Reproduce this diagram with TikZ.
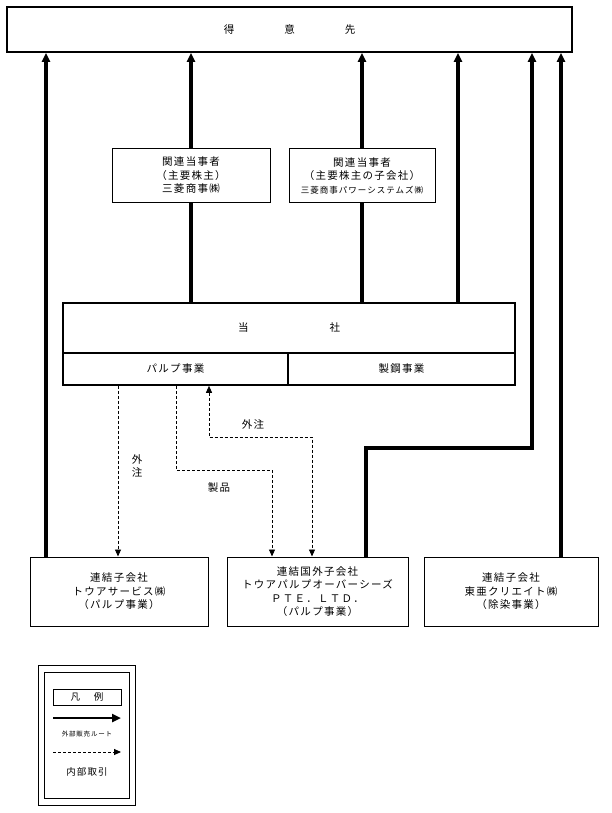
\documentclass[tikz,border=0pt]{standalone}
\usepackage{fontspec}
\setmainfont{Noto Sans CJK JP}[LetterSpace=12]
\usetikzlibrary{arrows.meta}

\tikzset{
    box/.style={draw, line width=1pt, rectangle, inner sep=0pt, align=center,
        font=\fontsize{10.5}{13.5}\selectfont},
    sales/.style={line width=3.2pt, -{Triangle[length=9pt,width=8pt]}},
    trade/.style={line width=0.9pt, dash pattern=on 3pt off 2pt, -{Triangle[length=7pt,width=6pt]}},
    lbl/.style={font=\fontsize{10.5}{13}\selectfont, align=center, inner sep=0pt}
}

\begin{document}
\begin{tikzpicture}[x=1pt, y=-1pt]
    \useasboundingbox (0,0) rectangle (612,813);

    \node[box, line width=1.8pt, minimum width=565pt, minimum height=45pt] (customer) at (289.5,29.5)
        {得\hspace{50pt}意\hspace{50pt}先};

    \node[box, minimum width=158pt, minimum height=53pt] (rel1) at (191,175.5)
        {関連当事者\\（主要株主）\\三菱商事㈱};
    \node[box, minimum width=146pt, minimum height=53pt] (rel2) at (362,175.5)
        {関連当事者\\（主要株主の子会社）\\{\fontsize{8.5}{11}\selectfont 三菱商事パワーシステムズ㈱}};

    \node[box, line width=1.6pt, minimum width=452pt, minimum height=50pt] (main) at (289,328)
        {当\hspace{81pt}社};
    \node[box, line width=1.6pt, minimum width=225pt, minimum height=32pt] (pulp) at (175.5,369)
        {パルプ事業};
    \node[box, line width=1.6pt, minimum width=227pt, minimum height=32pt] (steel) at (401.5,369)
        {製鋼事業};

    \node[box, minimum width=178pt, minimum height=69pt] (subA) at (119,591.5)
        {連結子会社\\トウアサービス㈱\\（パルプ事業）};
    \node[box, minimum width=181pt, minimum height=69pt] (subB) at (317.5,591.5)
        {連結国外子会社\\トウアパルプオーバーシーズ\\ＰＴＥ．ＬＴＤ．\\（パルプ事業）};
    \node[box, minimum width=174pt, minimum height=69pt] (subC) at (511,591.5)
        {連結子会社\\東亜クリエイト㈱\\（除染事業）};

    \draw[sales] (subA.north -| 46,0) -- (customer.south -| 46,0);
    \draw[line width=3.2pt] (main.north -| rel1.south) -- (rel1.south);
    \draw[sales] (rel1.north) -- (customer.south -| rel1.north);
    \draw[line width=3.2pt] (main.north -| rel2.south) -- (rel2.south);
    \draw[sales] (rel2.north) -- (customer.south -| rel2.north);
    \draw[sales] (main.north -| 458,0) -- (customer.south -| 458,0);
    \draw[sales] (subB.north -| 366,0) |- (532,448) -- (customer.south -| 532,0);
    \draw[sales] (subC.north -| 561,0) -- (customer.south -| 561,0);

    \draw[trade] (pulp.south -| 118,0) -- (subA.north -| 118,0);
    \draw[trade] (pulp.south -| 176,0) |- (272,470) -- (subB.north -| 272,0);
    \draw[trade, {Triangle[length=7pt,width=6pt]}-{Triangle[length=7pt,width=6pt]}]
        (pulp.south -| 209,0) |- (312,437) -- (subB.north -| 312,0);

    \node[lbl] (out1) at (137,466) {外\\注};
    \node[lbl] (prod) at (219,488) {製品};
    \node[lbl] (out2) at (253,424) {外注};

    \draw[line width=0.8pt] (38,665) rectangle (135,805);
    \draw[line width=0.8pt] (44,672) rectangle (129,798);
    \node[box, line width=0.8pt, minimum width=68pt, minimum height=16pt,
        font=\fontsize{9.5}{11}\selectfont] (legend) at (87,697) {凡\hspace{14pt}例};
    \coordinate (s1) at (53,718);
    \coordinate (s2) at (121,718);
    \coordinate (t1) at (53,752);
    \coordinate (t2) at (121,752);
    \draw[sales, line width=2.8pt] (s1) -- (s2);
    \node[lbl, font=\fontsize{6.5}{8}\selectfont] (salesl) at (87,734) {外部販売ルート};
    \draw[trade] (t1) -- (t2);
    \node[lbl, font=\fontsize{9.5}{11}\selectfont] (tradel) at (87,772) {内部取引};

\end{tikzpicture}
\end{document}
